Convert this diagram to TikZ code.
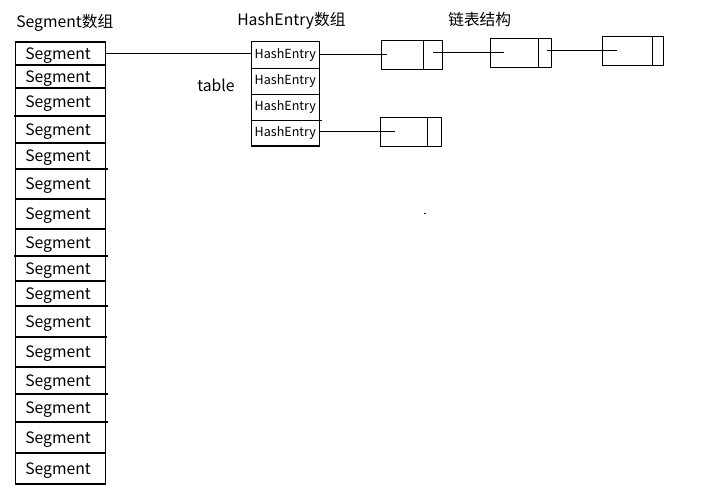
\documentclass[tikz,border=0pt]{standalone}
\usepackage{fontspec}
\newfontfamily\cjk{Noto Sans CJK SC}
\usetikzlibrary{positioning}

\begin{document}
\begin{tikzpicture}[x=0.75pt,y=0.75pt,yscale=-1,xscale=1,
  every node/.style={font=\cjk\fontsize{11.8}{13}\selectfont},
  segcell/.style={draw, line width=0.8pt, inner sep=0pt, outer sep=0pt, minimum width=67.8pt,
    text height=8.8pt, text depth=0pt, execute at end node={\hspace{3.6pt}}},
  hecell/.style={draw, line width=0.8pt, inner sep=0pt, outer sep=0pt, minimum width=51pt, font=\cjk\fontsize{9.4}{11}\selectfont},
  listcell/.style={draw, line width=0.8pt, inner sep=0pt, outer sep=0pt},
  link/.style={line width=0.8pt}]
\useasboundingbox (0,0) rectangle (719,491);

% Titles
\node [anchor=west, inner sep=0pt] (segtitle) at (16,23) {Segment数组};
\node [anchor=west, inner sep=0pt] (hetitle) at (237,21) {HashEntry数组};
\node [anchor=west, inner sep=0pt] (listtitle) at (448,20) {链表结构};
\node [anchor=west, inner sep=0pt] (tablelabel) at (197,85) {table};

% Segment array
\foreach \i/\top/\bot in {1/42/65, 2/65/88, 3/88/116, 4/116/143, 5/143/169, 6/169/199,
  7/199/229, 8/229/256, 9/256/281, 10/281/306, 11/306/337, 12/337/367,
  13/367/394, 14/394/422, 15/422/453, 16/453/484}
  \node [segcell, minimum height={(\bot-\top)*0.75pt}] (seg\i) at (60.5,{(\top+\bot)/2}) {Segment};

% little stubs of the cell borders
\draw [link] (seg3.south west) -- ++(-1.5,0);
\draw [link] (seg5.south east) -- ++(2.5,0);
\draw [link] (seg8.south west) -- ++(-1.5,0);
\draw [link] (seg8.south east) -- ++(2.5,0);
\draw [link] (seg10.south east) -- ++(2.5,0);
\draw [link] (seg11.south east) -- ++(1.5,0);
\draw [link] (seg13.south east) -- ++(2.5,0);
\draw [link] (seg14.south east) -- ++(2.5,0);

% HashEntry array
\foreach \i/\top/\bot in {1/41.3/68.3, 2/68.3/94.3, 3/94.3/120.3, 4/120.3/146}
  \node [hecell, minimum height={(\bot-\top)*0.75pt}] (he\i) at (285.3,{(\top+\bot)/2}) {HashEntry};
\draw [link] (he3.south east) -- ++(2.5,0);

% list nodes: data part and pointer part
\foreach \n/\xa/\xb/\xc/\ya/\yb in {1/381.3/423.3/442.3/40.3/69.3, 2/490.3/538.7/551.3/38.3/67.3,
  3/602.3/652.3/663.3/36.3/65.3, 4/380.3/427.3/441.3/117.3/146.3}
{
  \node [listcell, minimum width={(\xb-\xa)*0.75pt}, minimum height={(\yb-\ya)*0.75pt}] (b\n d) at ({(\xa+\xb)/2},{(\ya+\yb)/2}) {};
  \node [listcell, minimum width={(\xc-\xb)*0.75pt}, minimum height={(\yb-\ya)*0.75pt}] (b\n p) at ({(\xb+\xc)/2},{(\ya+\yb)/2}) {};
}

% connectors
\draw [link] (seg1.east) -- (seg1.east -| he1.west);
\draw [link] (he1.east |- b1d.west) -- ([xshift=4.3pt]b1d.west);
\draw [link] (b1p.center |- b2d.west) -- ([xshift=10pt]b2d.west);
\draw [link] ([xshift=6pt]b2p.west |- b3d.west) -- ([xshift=10.8pt]b3d.west);
\draw [link] (he4.east |- b4d.west) -- ([xshift=10.8pt]b4d.west);

% stray dot
\fill (424,212.6) rectangle (426,213.8);

\end{tikzpicture}
\end{document}
